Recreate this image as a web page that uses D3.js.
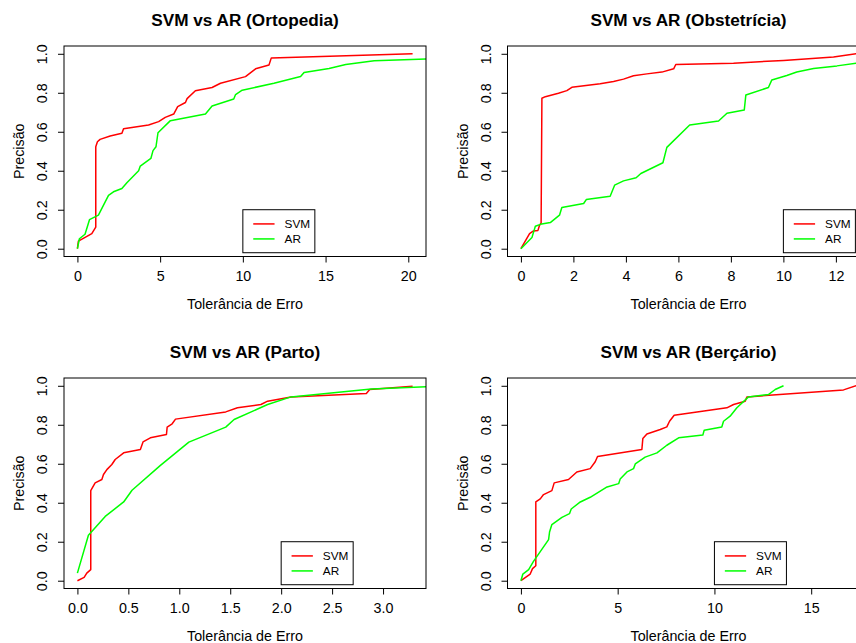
<!DOCTYPE html>
<html>
<head>
<meta charset="utf-8">
<script src="https://cdn.jsdelivr.net/npm/d3@7/dist/d3.min.js"></script>
<style>
  html, body { margin: 0; padding: 0; background: #fff; }
  svg { display: block; font-family: "Liberation Sans", Arial, Helvetica, sans-serif; }
</style>
</head>
<body>
<svg id="chart" width="856" height="643"></svg>
<script>
// ---- Data ----
const seriesNames = ["SVM", "AR"];
const panelTitles = ["SVM vs AR (Ortopedia)", "SVM vs AR (Obstetrícia)", "SVM vs AR (Parto)", "SVM vs AR (Berçário)"];
const yTickValues = [0, 0.2, 0.4, 0.6, 0.8, 1.0];

const ortopediaTicks = [0, 5, 10, 15, 20];
const obstetriciaTicks = [0, 2, 4, 6, 8, 10, 12];
const partoTicks = [0, 0.5, 1.0, 1.5, 2.0, 2.5, 3.0];
const bercarioTicks = [0, 5, 10, 15];

const ortopediaSVM = [[0,0],[0.06,0.039],[0.87,0.077],[1.11,0.111],[1.11,0.523],[1.21,0.549],[1.37,0.561],[1.98,0.578],[2.69,0.592],[2.79,0.616],[4.30,0.635],[4.91,0.652],[5.31,0.674],[5.82,0.691],[6.06,0.729],[6.53,0.750],[6.63,0.770],[7.13,0.810],[8.14,0.827],[8.65,0.849],[10.16,0.883],[10.77,0.923],[11.58,0.943],[11.72,0.979],[20.26,1.0]];
const ortopediaAR = [[0,0],[0.12,0.051],[0.46,0.074],[0.73,0.149],[1.27,0.172],[1.88,0.274],[2.18,0.292],[2.69,0.309],[2.99,0.338],[3.70,0.400],[3.80,0.424],[4.44,0.463],[4.57,0.503],[4.75,0.523],[4.87,0.595],[5.62,0.657],[7.74,0.691],[8.14,0.732],[9.45,0.768],[9.56,0.791],[9.96,0.813],[11.88,0.849],[13.49,0.883],[13.70,0.904],[15.21,0.925],[16.22,0.945],[17.94,0.964],[21.1,0.973],[22.5,0.98]];

const obstetriciaSVM = [[0,0],[0.33,0.077],[0.48,0.091],[0.65,0.094],[0.71,0.120],[0.77,0.132],[0.80,0.772],[0.93,0.780],[1.43,0.798],[1.75,0.811],[1.94,0.828],[3.02,0.846],[3.53,0.858],[3.91,0.870],[4.29,0.887],[4.80,0.897],[5.37,0.906],[5.82,0.923],[5.90,0.945],[8.10,0.952],[10.01,0.966],[11.91,0.983],[12.77,1.0]];
const obstetriciaAR = [[0,0],[0.42,0.057],[0.55,0.115],[0.74,0.125],[1.12,0.134],[1.47,0.172],[1.56,0.211],[2.39,0.232],[2.49,0.252],[3.40,0.269],[3.57,0.326],[3.91,0.348],[4.39,0.364],[4.57,0.386],[5.41,0.441],[5.56,0.520],[6.43,0.635],[7.53,0.655],[7.85,0.695],[8.51,0.712],[8.57,0.789],[9.43,0.827],[9.56,0.866],[10.13,0.889],[10.51,0.907],[11.15,0.925],[12.04,0.938],[12.77,0.952],[13.4,0.965]];

const partoSVM = [[0,0],[0.066,0.017],[0.092,0.039],[0.131,0.057],[0.131,0.462],[0.174,0.502],[0.240,0.519],[0.256,0.545],[0.289,0.570],[0.338,0.596],[0.371,0.622],[0.454,0.656],[0.618,0.673],[0.644,0.712],[0.716,0.733],[0.874,0.750],[0.881,0.788],[0.930,0.805],[0.963,0.829],[1.456,0.866],[1.571,0.887],[1.801,0.904],[1.867,0.921],[2.097,0.943],[2.836,0.961],[2.869,0.981],[3.290,0.998]];
const partoAR = [[0,0.039],[0.108,0.233],[0.273,0.330],[0.454,0.404],[0.536,0.464],[0.815,0.592],[1.094,0.711],[1.456,0.788],[1.538,0.827],[1.867,0.904],[2.097,0.943],[2.885,0.983],[3.434,0.995],[3.6,1.0]];

const bercarioSVM = [[0,0],[0.48,0.034],[0.60,0.062],[0.77,0.077],[0.77,0.404],[1.00,0.420],[1.17,0.442],[1.60,0.462],[1.72,0.502],[2.46,0.519],[2.89,0.558],[3.58,0.575],[3.84,0.610],[3.96,0.637],[6.25,0.673],[6.30,0.729],[6.51,0.753],[7.20,0.776],[7.54,0.789],[7.68,0.818],[7.92,0.849],[10.64,0.887],[10.99,0.904],[11.59,0.921],[11.68,0.943],[16.67,0.979],[17.32,1.0]];
const bercarioAR = [[0,0],[0.10,0.034],[0.40,0.057],[0.65,0.099],[1.43,0.211],[1.48,0.250],[1.60,0.288],[2.12,0.325],[2.51,0.344],[2.60,0.368],[3.07,0.404],[3.58,0.428],[4.41,0.479],[5.05,0.498],[5.13,0.522],[5.48,0.558],[5.82,0.575],[5.91,0.599],[6.42,0.634],[7.03,0.656],[7.54,0.695],[8.15,0.733],[9.40,0.747],[9.47,0.772],[10.38,0.789],[10.47,0.818],[10.81,0.844],[11.16,0.887],[11.76,0.943],[12.79,0.955],[13.14,0.981],[13.57,1.0]];

const legendAnchorX = [10, 10, 2, 10];
const legendAnchorY = 0.2;

// ---- Layout ----
const colors = { SVM: "#FF0000", AR: "#00FF00" };
const plotW = 362, plotH = 210.5;
const panels = [
  { title: panelTitles[0], svm: ortopediaSVM, ar: ortopediaAR, ticks: ortopediaTicks, fmt: d3.format("d"), lx: legendAnchorX[0], left: 64, top: 46 },
  { title: panelTitles[1], svm: obstetriciaSVM, ar: obstetriciaAR, ticks: obstetriciaTicks, fmt: d3.format("d"), lx: legendAnchorX[1], left: 507.5, top: 46 },
  { title: panelTitles[2], svm: partoSVM, ar: partoAR, ticks: partoTicks, fmt: d3.format(".1f"), lx: legendAnchorX[2], left: 64, top: 378 },
  { title: panelTitles[3], svm: bercarioSVM, ar: bercarioAR, ticks: bercarioTicks, fmt: d3.format("d"), lx: legendAnchorX[3], left: 507.5, top: 378 }
];

const svg = d3.select("#chart");
const baseFont = 14.3;

panels.forEach((p, i) => {
  const xMax = d3.max(p.svm, d => d[0]);
  const x = d3.scaleLinear().domain([-0.04 * xMax, 1.04 * xMax]).range([0, plotW]);
  const y = d3.scaleLinear().domain([-0.04, 1.04]).range([plotH, 0]);

  const g = svg.append("g").attr("transform", `translate(${p.left},${p.top})`);

  // clip
  const cid = "clip" + i;
  g.append("clipPath").attr("id", cid).append("rect")
    .attr("x", 0).attr("y", 0).attr("width", plotW).attr("height", plotH);

  // lines
  const line = d3.line().x(d => x(d[0])).y(d => y(d[1]));
  const lg = g.append("g").attr("clip-path", `url(#${cid})`);
  lg.append("path").datum(p.svm).attr("d", line)
    .attr("fill", "none").attr("stroke", colors.SVM).attr("stroke-width", 1.5).attr("stroke-linejoin", "round");
  lg.append("path").datum(p.ar).attr("d", line)
    .attr("fill", "none").attr("stroke", colors.AR).attr("stroke-width", 1.5).attr("stroke-linejoin", "round");

  // box
  g.append("rect").attr("x", 0).attr("y", 0).attr("width", plotW).attr("height", plotH)
    .attr("fill", "none").attr("stroke", "#000").attr("stroke-width", 1);

  // x axis
  const xa = g.append("g").attr("transform", `translate(0,${plotH})`)
    .call(d3.axisBottom(x).tickValues(p.ticks).tickFormat(p.fmt).tickSize(6).tickSizeOuter(0));
  xa.select(".domain").remove();
  xa.selectAll(".tick line").attr("stroke", "#000");
  xa.selectAll(".tick text").attr("y", 24).attr("dy", null)
    .attr("font-size", baseFont).attr("font-family", "Liberation Sans, Arial, sans-serif").attr("fill", "#000");

  // y axis
  const ya = g.append("g")
    .call(d3.axisLeft(y).tickValues(yTickValues).tickFormat(d3.format(".1f")).tickSize(6).tickSizeOuter(0));
  ya.select(".domain").remove();
  ya.selectAll(".tick line").attr("stroke", "#000");
  ya.selectAll(".tick text")
    .attr("transform", "rotate(-90)")
    .attr("x", 0).attr("y", -16.8).attr("dy", null)
    .attr("text-anchor", "middle")
    .attr("font-size", baseFont).attr("font-family", "Liberation Sans, Arial, sans-serif").attr("fill", "#000");

  // axis labels
  g.append("text").attr("x", plotW / 2).attr("y", plotH + 52)
    .attr("text-anchor", "middle").attr("font-size", baseFont).text("Tolerância de Erro");
  g.append("text").attr("transform", `translate(-40,${plotH / 2}) rotate(-90)`)
    .attr("text-anchor", "middle").attr("font-size", baseFont).text("Precisão");

  // title
  g.append("text").attr("x", plotW / 2).attr("y", -20)
    .attr("text-anchor", "middle").attr("font-size", 17.2).attr("font-weight", "bold").text(p.title);

  // legend
  const lx = x(p.lx), ly = y(legendAnchorY);
  const leg = g.append("g").attr("transform", `translate(${lx},${ly})`);
  leg.append("rect").attr("x", 0).attr("y", 0).attr("width", 72).attr("height", 43)
    .attr("fill", "#fff").attr("stroke", "#000").attr("stroke-width", 1);
  seriesNames.forEach((name, k) => {
    const ry = 14.2 + k * 15;
    leg.append("line").attr("x1", 10.4).attr("x2", 31.7).attr("y1", ry).attr("y2", ry)
      .attr("stroke", colors[name]).attr("stroke-width", 1.5);
    leg.append("text").attr("x", 41.7).attr("y", ry + 4.2).attr("font-size", 11.8).text(name);
  });
});
</script>
</body>
</html>
